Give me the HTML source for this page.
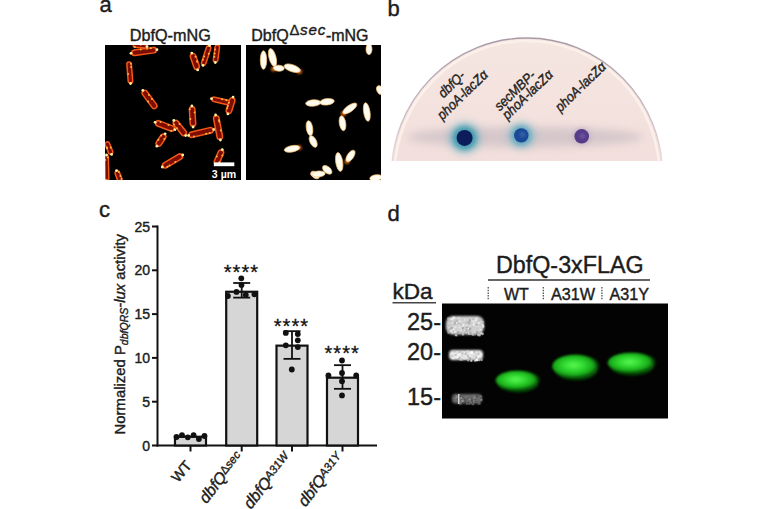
<!DOCTYPE html>
<html><head><meta charset="utf-8"><style>
html,body{margin:0;padding:0;background:#fff;width:768px;height:509px;overflow:hidden}
svg{display:block}
text{font-family:"Liberation Sans", sans-serif;fill:#1c1c1c;stroke:#1c1c1c;stroke-width:0.4px}
</style></head><body>
<svg width="768" height="509" viewBox="0 0 768 509">
<defs>
<filter id="blur1" x="-50%" y="-50%" width="200%" height="200%"><feGaussianBlur stdDeviation="0.6"/></filter>
<filter id="blur2" x="-50%" y="-50%" width="200%" height="200%"><feGaussianBlur stdDeviation="1.2"/></filter>
<filter id="blur3" x="-50%" y="-50%" width="200%" height="200%"><feGaussianBlur stdDeviation="2.5"/></filter>
<filter id="blur5" x="-50%" y="-50%" width="200%" height="200%"><feGaussianBlur stdDeviation="4"/></filter>
<radialGradient id="spot1" cx="50%" cy="50%" r="50%">
 <stop offset="0" stop-color="#0a2a6a"/><stop offset="0.55" stop-color="#0c2e70"/><stop offset="0.75" stop-color="#1a6a9a"/><stop offset="1" stop-color="#7ec8d0" stop-opacity="0"/>
</radialGradient>
</defs>

<text x="99.5" y="11.8" font-size="22">a</text>
<text x="387.5" y="15.7" font-size="22">b</text>
<text x="99" y="216.7" font-size="22">c</text>
<text x="387.5" y="220.7" font-size="22">d</text>
<text x="129.8" y="41.1" font-size="16.2">DbfQ-mNG</text>
<text x="251.3" y="41.2" font-size="16">DbfQ<tspan font-size="14.8" dy="-6.2" dx="0.8">Δ</tspan><tspan font-size="15.2" font-style="italic" dx="0.6" letter-spacing="0.9">sec</tspan><tspan dy="6.2" dx="-0.4">-mNG</tspan></text>
<rect x="105" y="45" width="136" height="135" fill="#000"/>
<rect x="246" y="45" width="135" height="135" fill="#000"/>
<clipPath id="clipL"><rect x="105" y="45" width="136" height="135"/></clipPath>
<clipPath id="clipR"><rect x="246" y="45" width="135" height="135"/></clipPath>
<filter id="blurL" x="-50%" y="-50%" width="200%" height="200%"><feGaussianBlur stdDeviation="0.75"/></filter>
<g clip-path="url(#clipL)"><g filter="url(#blurL)">
<rect x="-12.3" y="-2.8" width="24.7" height="5.5" rx="2.8" transform="translate(144.0,51.5) rotate(-7.8)" fill="#7c0a04" stroke="#f45818" stroke-width="1.5"/>
<circle cx="131.0" cy="53.3" r="1.4" fill="#fff0a0"/>
<circle cx="157.0" cy="49.7" r="1.4" fill="#fff0a0"/>
<circle cx="147.0" cy="48.8" r="1.0" fill="#ffb040"/>
<circle cx="150.8" cy="48.3" r="1.0" fill="#ffb040"/>
<circle cx="140.7" cy="49.6" r="1.0" fill="#ffb040"/>
<rect x="-6.8" y="-1.8" width="13.6" height="3.5" rx="1.8" transform="translate(140.0,46.0) rotate(4.8)" fill="#7c0a04" stroke="#f45818" stroke-width="1.5"/>
<circle cx="147.0" cy="46.6" r="1.4" fill="#fff0a0"/>
<circle cx="134.9" cy="46.9" r="1.0" fill="#ffb040"/>
<circle cx="134.9" cy="44.3" r="1.0" fill="#ffb040"/>
<circle cx="140.7" cy="44.8" r="1.0" fill="#ffb040"/>
<rect x="-10.5" y="-2.2" width="21.1" height="4.5" rx="2.2" transform="translate(129.8,72.5) rotate(85.5)" fill="#7c0a04" stroke="#f45818" stroke-width="1.5"/>
<circle cx="130.6" cy="83.5" r="1.4" fill="#fff0a0"/>
<circle cx="131.1" cy="67.1" r="1.0" fill="#ffb040"/>
<circle cx="128.1" cy="74.1" r="1.0" fill="#ffb040"/>
<circle cx="130.9" cy="63.8" r="1.0" fill="#ffb040"/>
<rect x="-10.5" y="-2.8" width="21.1" height="5.5" rx="2.8" transform="translate(149.5,99.5) rotate(53.7)" fill="#7c0a04" stroke="#f45818" stroke-width="1.5"/>
<circle cx="142.8" cy="90.4" r="1.4" fill="#fff0a0"/>
<circle cx="149.0" cy="95.0" r="1.0" fill="#ffb040"/>
<circle cx="148.1" cy="101.5" r="1.0" fill="#ffb040"/>
<circle cx="152.0" cy="99.0" r="1.0" fill="#ffb040"/>
<rect x="-8.1" y="-2.8" width="16.2" height="5.5" rx="2.8" transform="translate(194.8,61.5) rotate(70.9)" fill="#7c0a04" stroke="#f45818" stroke-width="1.5"/>
<circle cx="191.8" cy="53.1" r="1.4" fill="#fff0a0"/>
<circle cx="197.7" cy="69.9" r="1.4" fill="#fff0a0"/>
<circle cx="195.5" cy="56.7" r="1.0" fill="#ffb040"/>
<circle cx="197.1" cy="61.4" r="1.0" fill="#ffb040"/>
<circle cx="197.2" cy="61.6" r="1.0" fill="#ffb040"/>
<rect x="-9.9" y="-2.2" width="19.9" height="4.5" rx="2.2" transform="translate(206.2,55.5) rotate(107.9)" fill="#7c0a04" stroke="#f45818" stroke-width="1.5"/>
<circle cx="209.5" cy="45.6" r="1.4" fill="#fff0a0"/>
<circle cx="203.0" cy="65.4" r="1.4" fill="#fff0a0"/>
<circle cx="203.0" cy="59.7" r="1.0" fill="#ffb040"/>
<circle cx="204.1" cy="56.4" r="1.0" fill="#ffb040"/>
<circle cx="208.7" cy="53.7" r="1.0" fill="#ffb040"/>
<rect x="-8.6" y="-2.2" width="17.2" height="4.5" rx="2.2" transform="translate(216.5,53.5) rotate(97.6)" fill="#7c0a04" stroke="#f45818" stroke-width="1.5"/>
<circle cx="215.3" cy="62.5" r="1.4" fill="#fff0a0"/>
<circle cx="215.2" cy="49.4" r="1.0" fill="#ffb040"/>
<circle cx="214.7" cy="53.6" r="1.0" fill="#ffb040"/>
<circle cx="214.3" cy="56.7" r="1.0" fill="#ffb040"/>
<rect x="-9.7" y="-2.2" width="19.5" height="4.5" rx="2.2" transform="translate(221.5,101.0) rotate(13.2)" fill="#7c0a04" stroke="#f45818" stroke-width="1.5"/>
<circle cx="211.5" cy="98.7" r="1.4" fill="#fff0a0"/>
<circle cx="231.5" cy="103.3" r="1.4" fill="#fff0a0"/>
<circle cx="222.1" cy="99.3" r="1.0" fill="#ffb040"/>
<circle cx="226.3" cy="100.3" r="1.0" fill="#ffb040"/>
<circle cx="228.5" cy="104.5" r="1.0" fill="#ffb040"/>
<rect x="-8.0" y="-2.8" width="16.1" height="5.5" rx="2.8" transform="translate(230.5,105.5) rotate(107.1)" fill="#7c0a04" stroke="#f45818" stroke-width="1.5"/>
<circle cx="233.1" cy="97.1" r="1.4" fill="#fff0a0"/>
<circle cx="227.9" cy="113.9" r="1.4" fill="#fff0a0"/>
<circle cx="227.2" cy="108.3" r="1.0" fill="#ffb040"/>
<circle cx="228.9" cy="102.7" r="1.0" fill="#ffb040"/>
<circle cx="227.9" cy="106.1" r="1.0" fill="#ffb040"/>
<rect x="-9.8" y="-2.8" width="19.5" height="5.5" rx="2.8" transform="translate(192.5,116.5) rotate(86.6)" fill="#7c0a04" stroke="#f45818" stroke-width="1.5"/>
<circle cx="191.9" cy="106.0" r="1.4" fill="#fff0a0"/>
<circle cx="193.1" cy="127.0" r="1.4" fill="#fff0a0"/>
<circle cx="194.6" cy="112.5" r="1.0" fill="#ffb040"/>
<circle cx="189.8" cy="109.2" r="1.0" fill="#ffb040"/>
<circle cx="190.4" cy="119.1" r="1.0" fill="#ffb040"/>
<rect x="-9.8" y="-2.8" width="19.6" height="5.5" rx="2.8" transform="translate(165.0,126.0) rotate(20.6)" fill="#7c0a04" stroke="#f45818" stroke-width="1.5"/>
<circle cx="155.1" cy="122.3" r="1.4" fill="#fff0a0"/>
<circle cx="174.9" cy="129.7" r="1.4" fill="#fff0a0"/>
<circle cx="168.5" cy="124.9" r="1.0" fill="#ffb040"/>
<circle cx="171.2" cy="130.8" r="1.0" fill="#ffb040"/>
<circle cx="160.5" cy="121.9" r="1.0" fill="#ffb040"/>
<rect x="-8.9" y="-2.8" width="17.8" height="5.5" rx="2.8" transform="translate(179.8,128.0) rotate(51.6)" fill="#7c0a04" stroke="#f45818" stroke-width="1.5"/>
<circle cx="173.8" cy="120.4" r="1.4" fill="#fff0a0"/>
<circle cx="185.7" cy="135.6" r="1.4" fill="#fff0a0"/>
<circle cx="179.5" cy="124.0" r="1.0" fill="#ffb040"/>
<circle cx="177.0" cy="128.2" r="1.0" fill="#ffb040"/>
<circle cx="174.0" cy="124.4" r="1.0" fill="#ffb040"/>
<rect x="-12.3" y="-2.8" width="24.5" height="5.5" rx="2.8" transform="translate(201.2,132.5) rotate(-13.1)" fill="#7c0a04" stroke="#f45818" stroke-width="1.5"/>
<circle cx="188.6" cy="135.5" r="1.4" fill="#fff0a0"/>
<circle cx="213.9" cy="129.5" r="1.4" fill="#fff0a0"/>
<circle cx="194.0" cy="136.6" r="1.0" fill="#ffb040"/>
<circle cx="209.6" cy="132.9" r="1.0" fill="#ffb040"/>
<circle cx="206.2" cy="133.7" r="1.0" fill="#ffb040"/>
<rect x="-11.9" y="-2.8" width="23.9" height="5.5" rx="2.8" transform="translate(218.0,127.5) rotate(79.2)" fill="#7c0a04" stroke="#f45818" stroke-width="1.5"/>
<circle cx="215.6" cy="115.0" r="1.4" fill="#fff0a0"/>
<circle cx="220.4" cy="140.0" r="1.4" fill="#fff0a0"/>
<circle cx="219.2" cy="121.4" r="1.0" fill="#ffb040"/>
<circle cx="219.0" cy="120.3" r="1.0" fill="#ffb040"/>
<circle cx="220.9" cy="130.4" r="1.0" fill="#ffb040"/>
<rect x="-6.6" y="-2.8" width="13.3" height="5.5" rx="2.8" transform="translate(161.0,140.0) rotate(123.7)" fill="#7c0a04" stroke="#f45818" stroke-width="1.5"/>
<circle cx="165.1" cy="133.8" r="1.4" fill="#fff0a0"/>
<circle cx="156.9" cy="146.2" r="1.4" fill="#fff0a0"/>
<circle cx="164.3" cy="139.1" r="1.0" fill="#ffb040"/>
<circle cx="161.2" cy="135.5" r="1.0" fill="#ffb040"/>
<circle cx="158.4" cy="139.7" r="1.0" fill="#ffb040"/>
<rect x="-6.4" y="-2.2" width="12.8" height="4.5" rx="2.2" transform="translate(109.0,148.0) rotate(68.2)" fill="#7c0a04" stroke="#f45818" stroke-width="1.5"/>
<circle cx="111.6" cy="154.4" r="1.4" fill="#fff0a0"/>
<circle cx="110.7" cy="147.5" r="1.0" fill="#ffb040"/>
<circle cx="107.2" cy="148.2" r="1.0" fill="#ffb040"/>
<circle cx="106.9" cy="147.6" r="1.0" fill="#ffb040"/>
<rect x="-12.8" y="-1.8" width="25.6" height="3.5" rx="1.8" transform="translate(106.8,168.0) rotate(88.8)" fill="#7c0a04" stroke="#f45818" stroke-width="1.5"/>
<circle cx="106.5" cy="155.0" r="1.4" fill="#fff0a0"/>
<circle cx="107.0" cy="181.0" r="1.4" fill="#fff0a0"/>
<circle cx="107.8" cy="157.5" r="1.0" fill="#ffb040"/>
<circle cx="105.7" cy="179.7" r="1.0" fill="#ffb040"/>
<circle cx="105.3" cy="159.9" r="1.0" fill="#ffb040"/>
<rect x="-5.3" y="-2.2" width="10.6" height="4.5" rx="2.2" transform="translate(118.5,176.0) rotate(69.4)" fill="#7c0a04" stroke="#f45818" stroke-width="1.5"/>
<circle cx="116.5" cy="170.6" r="1.4" fill="#fff0a0"/>
<circle cx="120.5" cy="181.4" r="1.4" fill="#fff0a0"/>
<circle cx="120.4" cy="175.9" r="1.0" fill="#ffb040"/>
<circle cx="121.5" cy="179.0" r="1.0" fill="#ffb040"/>
<circle cx="118.9" cy="171.9" r="1.0" fill="#ffb040"/>
<rect x="-11.1" y="-2.8" width="22.2" height="5.5" rx="2.8" transform="translate(172.5,161.0) rotate(-30.5)" fill="#7c0a04" stroke="#f45818" stroke-width="1.5"/>
<circle cx="162.3" cy="167.0" r="1.4" fill="#fff0a0"/>
<circle cx="182.7" cy="155.0" r="1.4" fill="#fff0a0"/>
<circle cx="169.5" cy="165.5" r="1.0" fill="#ffb040"/>
<circle cx="175.4" cy="162.0" r="1.0" fill="#ffb040"/>
<circle cx="167.3" cy="166.8" r="1.0" fill="#ffb040"/>
<rect x="-7.5" y="-2.8" width="15.0" height="5.5" rx="2.8" transform="translate(219.0,157.2) rotate(-66.5)" fill="#7c0a04" stroke="#f45818" stroke-width="1.5"/>
<circle cx="222.3" cy="149.7" r="1.4" fill="#fff0a0"/>
<circle cx="216.8" cy="156.5" r="1.0" fill="#ffb040"/>
<circle cx="219.3" cy="162.3" r="1.0" fill="#ffb040"/>
<circle cx="222.3" cy="155.4" r="1.0" fill="#ffb040"/>
</g></g>
<g clip-path="url(#clipR)"><g filter="url(#blur1)">
<circle cx="273.5" cy="69" r="2.6" fill="#e87010" opacity="0.85" filter="url(#blur2)"/>
<circle cx="299.5" cy="71.5" r="2.6" fill="#e87010" opacity="0.85" filter="url(#blur2)"/>
<circle cx="343.5" cy="113.5" r="2.6" fill="#e87010" opacity="0.85" filter="url(#blur2)"/>
<circle cx="299" cy="147.5" r="2.6" fill="#e87010" opacity="0.85" filter="url(#blur2)"/>
<circle cx="347" cy="161.5" r="2.6" fill="#e87010" opacity="0.85" filter="url(#blur2)"/>
<ellipse rx="9.3" ry="3.2" transform="translate(263.5,60.0) rotate(90.0)" fill="#fffbee" stroke="#f8c070" stroke-width="0.7"/>
<ellipse rx="9.2" ry="3.5" transform="translate(272.5,57.5) rotate(75.1)" fill="#fffbee" stroke="#f8c070" stroke-width="0.7"/>
<ellipse rx="5.5" ry="3.0" transform="translate(278.8,68.2) rotate(3.4)" fill="#fffbee" stroke="#f8c070" stroke-width="0.7"/>
<ellipse rx="8.5" ry="3.5" transform="translate(292.2,68.2) rotate(18.4)" fill="#fffbee" stroke="#f8c070" stroke-width="0.7"/>
<ellipse rx="7.6" ry="3.2" transform="translate(313.2,103.0) rotate(-4.6)" fill="#fffbee" stroke="#f8c070" stroke-width="0.7"/>
<ellipse rx="7.3" ry="3.2" transform="translate(327.0,101.8) rotate(-7.1)" fill="#fffbee" stroke="#f8c070" stroke-width="0.7"/>
<ellipse rx="5.5" ry="3.0" transform="translate(369.0,49.2) rotate(90.0)" fill="#fffbee" stroke="#f8c070" stroke-width="0.7"/>
<ellipse rx="4.5" ry="3.0" transform="translate(379.8,90.0) rotate(67.4)" fill="#fffbee" stroke="#f8c070" stroke-width="0.7"/>
<ellipse rx="8.3" ry="3.2" transform="translate(349.8,108.5) rotate(-34.8)" fill="#fffbee" stroke="#f8c070" stroke-width="0.7"/>
<ellipse rx="9.4" ry="3.2" transform="translate(366.8,112.0) rotate(81.1)" fill="#fffbee" stroke="#f8c070" stroke-width="0.7"/>
<ellipse rx="7.6" ry="3.2" transform="translate(342.5,123.2) rotate(80.9)" fill="#fffbee" stroke="#f8c070" stroke-width="0.7"/>
<ellipse rx="7.9" ry="3.2" transform="translate(292.0,148.8) rotate(-10.9)" fill="#fffbee" stroke="#f8c070" stroke-width="0.7"/>
<ellipse rx="7.6" ry="3.2" transform="translate(309.5,128.2) rotate(80.9)" fill="#fffbee" stroke="#f8c070" stroke-width="0.7"/>
<ellipse rx="6.3" ry="3.2" transform="translate(313.2,141.5) rotate(63.4)" fill="#fffbee" stroke="#f8c070" stroke-width="0.7"/>
<ellipse rx="4.8" ry="3.0" transform="translate(315.0,175.0) rotate(33.7)" fill="#fffbee" stroke="#f8c070" stroke-width="0.7"/>
<ellipse rx="9.5" ry="3.5" transform="translate(339.2,162.0) rotate(81.1)" fill="#fffbee" stroke="#f8c070" stroke-width="0.7"/>
<ellipse rx="6.7" ry="3.2" transform="translate(350.5,156.0) rotate(-56.3)" fill="#fffbee" stroke="#f8c070" stroke-width="0.7"/>
<ellipse rx="5.6" ry="3.2" transform="translate(327.2,169.8) rotate(40.2)" fill="#fffbee" stroke="#f8c070" stroke-width="0.7"/>
<ellipse rx="6.7" ry="3.0" transform="translate(318.5,174.0) rotate(-5.2)" fill="#fffbee" stroke="#f8c070" stroke-width="0.7"/>
<ellipse rx="6.3" ry="3.0" transform="translate(376.0,177.8) rotate(-8.5)" fill="#fffbee" stroke="#f8c070" stroke-width="0.7"/>
</g></g>
<rect x="213.8" y="162.4" width="20.5" height="3.8" fill="#fff"/>
<text x="211.8" y="178" font-size="10.6" font-weight="bold" style="fill:#fff;stroke:none">3 µm</text>
<clipPath id="dishclip"><rect x="380" y="0" width="300" height="161"/></clipPath>
<g clip-path="url(#dishclip)">
<defs><linearGradient id="dishg" x1="0" y1="0" x2="0" y2="1"><stop offset="0" stop-color="#f5e6e0"/><stop offset="0.5" stop-color="#f2dedc"/><stop offset="1" stop-color="#f0dbda"/></linearGradient></defs>
<defs><linearGradient id="rimg" x1="0" y1="38" x2="0" y2="161" gradientUnits="userSpaceOnUse"><stop offset="0" stop-color="#a898a6"/><stop offset="0.5" stop-color="#c0b2bc"/><stop offset="1" stop-color="#eadcdc"/></linearGradient></defs>
<ellipse cx="527" cy="175" rx="135.5" ry="137" fill="url(#dishg)" stroke="url(#rimg)" stroke-width="1.4"/>
<ellipse cx="527" cy="175" rx="132.5" ry="134" fill="none" stroke="#fbf1ea" stroke-width="2.5"/>
</g>
<g clip-path="url(#dishclip)"><ellipse cx="525" cy="137" rx="118" ry="10" fill="#b0a8b4" opacity="0.45" filter="url(#blur5)"/></g>
<circle cx="464.6" cy="137.9" r="15" fill="#60b0c0" opacity="0.7" filter="url(#blur5)"/>
<circle cx="464.6" cy="137.9" r="11.5" fill="#2a90a8" opacity="0.75" filter="url(#blur3)"/>
<circle cx="464.6" cy="137.9" r="8" fill="#0b1e5a" filter="url(#blur1)"/>
<circle cx="521.3" cy="135.4" r="13" fill="#70b8c8" opacity="0.6" filter="url(#blur5)"/>
<circle cx="521.3" cy="135.4" r="10" fill="#3a98b8" opacity="0.6" filter="url(#blur3)"/>
<circle cx="521.3" cy="135.4" r="7.2" fill="#1a4896" filter="url(#blur1)"/>
<circle cx="522.5" cy="134.5" r="3" fill="#3a68b0" opacity="0.7" filter="url(#blur2)"/>
<circle cx="581.7" cy="136.3" r="8.5" fill="#9a80b0" opacity="0.35" filter="url(#blur3)"/>
<circle cx="581.7" cy="136.3" r="7.3" fill="#553a88" filter="url(#blur1)"/>
<circle cx="582.5" cy="136" r="3" fill="#7a60a8" opacity="0.6" filter="url(#blur2)"/>
<g transform="translate(443.5,98.5) rotate(-44) scale(0.91,1)"><text font-size="13.8" font-style="italic" style="fill:#262626">dbfQ-</text></g>
<g transform="translate(442.5,120.5) rotate(-44) scale(0.91,1)"><text font-size="13.8" font-style="italic" style="fill:#262626">phoA-lacZα</text></g>
<g transform="translate(499.8,111.6) rotate(-44) scale(0.91,1)"><text font-size="13.8" font-style="italic" style="fill:#262626">secMBP-</text></g>
<g transform="translate(507.5,120.3) rotate(-44) scale(0.91,1)"><text font-size="13.8" font-style="italic" style="fill:#262626">phoA-lacZα</text></g>
<g transform="translate(560.5,112.5) rotate(-44) scale(0.91,1)"><text font-size="13.8" font-style="italic" style="fill:#262626">phoA-lacZα</text></g>
<g stroke="#111" stroke-width="2" fill="none">
<line x1="157.5" y1="225.5" x2="157.5" y2="446.5"/>
<line x1="156.5" y1="445.5" x2="377" y2="445.5"/>
<line x1="152" y1="445.5" x2="157.5" y2="445.5"/>
<line x1="152" y1="401.7" x2="157.5" y2="401.7"/>
<line x1="152" y1="357.9" x2="157.5" y2="357.9"/>
<line x1="152" y1="314.1" x2="157.5" y2="314.1"/>
<line x1="152" y1="270.3" x2="157.5" y2="270.3"/>
<line x1="152" y1="226.5" x2="157.5" y2="226.5"/>
</g>
<text x="150" y="450.5" font-size="14" text-anchor="end">0</text>
<text x="150" y="406.7" font-size="14" text-anchor="end">5</text>
<text x="150" y="362.9" font-size="14" text-anchor="end">10</text>
<text x="150" y="319.1" font-size="14" text-anchor="end">15</text>
<text x="150" y="275.3" font-size="14" text-anchor="end">20</text>
<text x="150" y="231.5" font-size="14" text-anchor="end">25</text>
<rect x="175.0" y="436.74" width="31" height="8.759999999999991" fill="#d6d6d6" stroke="#111" stroke-width="2.2"/>
<line x1="190.5" y1="445.5" x2="190.5" y2="451.5" stroke="#111" stroke-width="2"/>
<rect x="226.2" y="291.762" width="31" height="153.738" fill="#d6d6d6" stroke="#111" stroke-width="2.2"/>
<line x1="241.7" y1="445.5" x2="241.7" y2="451.5" stroke="#111" stroke-width="2"/>
<rect x="276.5" y="345.63599999999997" width="31" height="99.86400000000003" fill="#d6d6d6" stroke="#111" stroke-width="2.2"/>
<line x1="292" y1="445.5" x2="292" y2="451.5" stroke="#111" stroke-width="2"/>
<rect x="327.0" y="377.69759999999997" width="31" height="67.80240000000003" fill="#d6d6d6" stroke="#111" stroke-width="2.2"/>
<line x1="342.5" y1="445.5" x2="342.5" y2="451.5" stroke="#111" stroke-width="2"/>
<g stroke="#111" stroke-width="1.8"><line x1="241.7" y1="283.002" x2="241.7" y2="297.63120000000004"/><line x1="233.2" y1="283.002" x2="250.2" y2="283.002"/><line x1="233.2" y1="297.63120000000004" x2="250.2" y2="297.63120000000004"/></g>
<g stroke="#111" stroke-width="1.8"><line x1="292" y1="331.182" x2="292" y2="358.8636"/><line x1="283.5" y1="331.182" x2="300.5" y2="331.182"/><line x1="283.5" y1="358.8636" x2="300.5" y2="358.8636"/></g>
<g stroke="#111" stroke-width="1.8"><line x1="342.5" y1="365.1708" x2="342.5" y2="388.82280000000003"/><line x1="334.0" y1="365.1708" x2="351.0" y2="365.1708"/><line x1="334.0" y1="388.82280000000003" x2="351.0" y2="388.82280000000003"/></g>
<circle cx="176.5" cy="437" r="2.9" fill="#111"/>
<circle cx="182" cy="435.2" r="2.9" fill="#111"/>
<circle cx="187.8" cy="437.3" r="2.9" fill="#111"/>
<circle cx="193.6" cy="435.2" r="2.9" fill="#111"/>
<circle cx="198.9" cy="439" r="2.9" fill="#111"/>
<circle cx="204.5" cy="436" r="2.9" fill="#111"/>
<circle cx="241.3" cy="278.3" r="2.9" fill="#111"/>
<circle cx="241.5" cy="285" r="2.9" fill="#111"/>
<circle cx="236.5" cy="291.9" r="2.9" fill="#111"/>
<circle cx="227.9" cy="296" r="2.9" fill="#111"/>
<circle cx="245.8" cy="295" r="2.9" fill="#111"/>
<circle cx="254.4" cy="294.3" r="2.9" fill="#111"/>
<circle cx="285.8" cy="332.9" r="2.9" fill="#111"/>
<circle cx="297.8" cy="334.1" r="2.9" fill="#111"/>
<circle cx="297.8" cy="340.3" r="2.9" fill="#111"/>
<circle cx="285.8" cy="345.3" r="2.9" fill="#111"/>
<circle cx="297.8" cy="347.1" r="2.9" fill="#111"/>
<circle cx="291.8" cy="369.5" r="2.9" fill="#111"/>
<circle cx="342" cy="360.5" r="2.9" fill="#111"/>
<circle cx="328.4" cy="375.4" r="2.9" fill="#111"/>
<circle cx="342" cy="373" r="2.9" fill="#111"/>
<circle cx="356.2" cy="375.4" r="2.9" fill="#111"/>
<circle cx="342" cy="381.2" r="2.9" fill="#111"/>
<circle cx="342" cy="395.4" r="2.9" fill="#111"/>
<text x="241.4" y="278.9" font-size="20" letter-spacing="1.1" text-anchor="middle" style="fill:#111;stroke:#111;stroke-width:0.3px">****</text>
<text x="291.5" y="333.1" font-size="20" letter-spacing="1.1" text-anchor="middle" style="fill:#111;stroke:#111;stroke-width:0.3px">****</text>
<text x="342.2" y="359.8" font-size="20" letter-spacing="1.1" text-anchor="middle" style="fill:#111;stroke:#111;stroke-width:0.3px">****</text>
<g transform="translate(192.5,466) rotate(-50)"><text font-size="14.5" text-anchor="end">WT</text></g>
<g transform="translate(206.4,504.3) rotate(-52)"><text font-size="16"><tspan font-style="italic">dbfQ</tspan><tspan font-size="11.5" dy="-3.2">Δ</tspan><tspan font-size="11.5" font-style="italic">sec</tspan></text></g>
<g transform="translate(251,509.8) rotate(-52)"><text font-size="16"><tspan font-style="italic">dbfQ</tspan><tspan font-size="11.5" dy="-3.2" font-style="italic">A31W</tspan></text></g>
<g transform="translate(305.4,507.4) rotate(-52)"><text font-size="16"><tspan font-style="italic">dbfQ</tspan><tspan font-size="11.5" dy="-3.2" font-style="italic">A31Y</tspan></text></g>
<g transform="translate(124.5,434.5) rotate(-90)"><text font-size="14.9">Normalized P<tspan font-size="10.5" font-style="italic" dy="3.5">dbfQRS</tspan><tspan font-style="italic" dy="-3.5">-lux</tspan> activity</text></g>
<text x="496" y="272.8" font-size="23.3">DbfQ-3xFLAG</text>
<line x1="488" y1="280" x2="650" y2="280" stroke="#666" stroke-width="1.8"/>
<text x="504" y="299.8" font-size="16">WT</text>
<text x="551" y="299.8" font-size="16.2">A31W</text>
<text x="609.5" y="299.8" font-size="16.2">A31Y</text>
<line x1="488.2" y1="287" x2="488.2" y2="300.5" stroke="#444" stroke-width="1.2" stroke-dasharray="1.5,1.2"/>
<line x1="543.3" y1="287" x2="543.3" y2="300.5" stroke="#444" stroke-width="1.2" stroke-dasharray="1.5,1.2"/>
<line x1="601.9" y1="287" x2="601.9" y2="300.5" stroke="#444" stroke-width="1.2" stroke-dasharray="1.5,1.2"/>
<text x="392.5" y="299" font-size="22.6">kDa</text>
<line x1="392.5" y1="302.7" x2="436" y2="302.7" stroke="#444" stroke-width="1.6"/>
<rect x="442" y="303.5" width="226" height="115" fill="#030303"/>
<text x="441" y="330.2" font-size="23.5" text-anchor="end">25-</text>
<text x="441" y="360.3" font-size="23.5" text-anchor="end">20-</text>
<text x="441" y="404.5" font-size="23.5" text-anchor="end">15-</text>
<clipPath id="gelclip"><rect x="442" y="303.5" width="226" height="115"/></clipPath>
<g clip-path="url(#gelclip)">
<g filter="url(#blur2)">
<rect x="446" y="316" width="38" height="18.5" rx="7" fill="#d0d0d0"/>
<rect x="449" y="350" width="34" height="10" rx="4" fill="#e8e8e8"/>
<rect x="452" y="394" width="30" height="9.5" rx="4" fill="#6a6a6a"/>
</g>
<g filter="url(#blur1)">
<rect x="455.6" y="326.3" width="2" height="2" fill="rgb(190,190,190)" opacity="0.8"/>
<rect x="468.7" y="327.8" width="2" height="2" fill="rgb(161,161,161)" opacity="0.8"/>
<rect x="447.5" y="331.6" width="2" height="2" fill="rgb(179,179,179)" opacity="0.8"/>
<rect x="455.4" y="334.4" width="2" height="2" fill="rgb(199,199,199)" opacity="0.8"/>
<rect x="477.1" y="325.1" width="2" height="2" fill="rgb(215,215,215)" opacity="0.8"/>
<rect x="452.4" y="327.9" width="2" height="2" fill="rgb(237,237,237)" opacity="0.8"/>
<rect x="465.8" y="329.8" width="2" height="2" fill="rgb(218,218,218)" opacity="0.8"/>
<rect x="449.3" y="330.1" width="2" height="2" fill="rgb(211,211,211)" opacity="0.8"/>
<rect x="457.8" y="317.1" width="2" height="2" fill="rgb(237,237,237)" opacity="0.8"/>
<rect x="464.0" y="329.4" width="2" height="2" fill="rgb(238,238,238)" opacity="0.8"/>
<rect x="472.7" y="333.1" width="2" height="2" fill="rgb(192,192,192)" opacity="0.8"/>
<rect x="475.8" y="324.5" width="2" height="2" fill="rgb(243,243,243)" opacity="0.8"/>
<rect x="478.6" y="318.3" width="2" height="2" fill="rgb(167,167,167)" opacity="0.8"/>
<rect x="454.8" y="333.9" width="2" height="2" fill="rgb(196,196,196)" opacity="0.8"/>
<rect x="469.6" y="321.9" width="2" height="2" fill="rgb(203,203,203)" opacity="0.8"/>
<rect x="460.9" y="322.8" width="2" height="2" fill="rgb(210,210,210)" opacity="0.8"/>
<rect x="468.0" y="332.8" width="2" height="2" fill="rgb(219,219,219)" opacity="0.8"/>
<rect x="480.4" y="331.9" width="2" height="2" fill="rgb(249,249,249)" opacity="0.8"/>
<rect x="471.2" y="319.4" width="2" height="2" fill="rgb(236,236,236)" opacity="0.8"/>
<rect x="481.7" y="332.8" width="2" height="2" fill="rgb(209,209,209)" opacity="0.8"/>
<rect x="472.7" y="320.3" width="2" height="2" fill="rgb(234,234,234)" opacity="0.8"/>
<rect x="467.6" y="321.6" width="2" height="2" fill="rgb(161,161,161)" opacity="0.8"/>
<rect x="477.7" y="334.3" width="2" height="2" fill="rgb(163,163,163)" opacity="0.8"/>
<rect x="475.8" y="323.9" width="2" height="2" fill="rgb(169,169,169)" opacity="0.8"/>
<rect x="457.6" y="330.3" width="2" height="2" fill="rgb(237,237,237)" opacity="0.8"/>
<rect x="448.6" y="327.6" width="2" height="2" fill="rgb(159,159,159)" opacity="0.8"/>
<rect x="472.9" y="322.5" width="2" height="2" fill="rgb(238,238,238)" opacity="0.8"/>
<rect x="482.3" y="325.6" width="2" height="2" fill="rgb(249,249,249)" opacity="0.8"/>
<rect x="458.1" y="317.9" width="2" height="2" fill="rgb(211,211,211)" opacity="0.8"/>
<rect x="448.1" y="320.1" width="2" height="2" fill="rgb(193,193,193)" opacity="0.8"/>
<rect x="469.0" y="319.3" width="2" height="2" fill="rgb(159,159,159)" opacity="0.8"/>
<rect x="478.2" y="322.1" width="2" height="2" fill="rgb(246,246,246)" opacity="0.8"/>
<rect x="479.3" y="323.3" width="2" height="2" fill="rgb(198,198,198)" opacity="0.8"/>
<rect x="465.7" y="328.1" width="2" height="2" fill="rgb(211,211,211)" opacity="0.8"/>
<rect x="467.1" y="327.7" width="2" height="2" fill="rgb(244,244,244)" opacity="0.8"/>
<rect x="465.3" y="324.3" width="2" height="2" fill="rgb(223,223,223)" opacity="0.8"/>
<rect x="455.6" y="321.9" width="2" height="2" fill="rgb(247,247,247)" opacity="0.8"/>
<rect x="465.8" y="326.4" width="2" height="2" fill="rgb(156,156,156)" opacity="0.8"/>
<rect x="461.9" y="326.9" width="2" height="2" fill="rgb(156,156,156)" opacity="0.8"/>
<rect x="469.2" y="327.9" width="2" height="2" fill="rgb(160,160,160)" opacity="0.8"/>
<rect x="469.6" y="324.9" width="2" height="2" fill="rgb(219,219,219)" opacity="0.8"/>
<rect x="459.7" y="329.2" width="2" height="2" fill="rgb(225,225,225)" opacity="0.8"/>
<rect x="447.8" y="317.6" width="2" height="2" fill="rgb(219,219,219)" opacity="0.8"/>
<rect x="481.7" y="321.0" width="2" height="2" fill="rgb(198,198,198)" opacity="0.8"/>
<rect x="468.3" y="322.3" width="2" height="2" fill="rgb(189,189,189)" opacity="0.8"/>
<rect x="458.3" y="323.1" width="2" height="2" fill="rgb(211,211,211)" opacity="0.8"/>
<rect x="457.8" y="323.3" width="2" height="2" fill="rgb(228,228,228)" opacity="0.8"/>
<rect x="448.0" y="326.7" width="2" height="2" fill="rgb(224,224,224)" opacity="0.8"/>
<rect x="458.2" y="320.5" width="2" height="2" fill="rgb(231,231,231)" opacity="0.8"/>
<rect x="455.6" y="319.9" width="2" height="2" fill="rgb(196,196,196)" opacity="0.8"/>
<rect x="472.1" y="318.3" width="2" height="2" fill="rgb(185,185,185)" opacity="0.8"/>
<rect x="459.0" y="331.5" width="2" height="2" fill="rgb(196,196,196)" opacity="0.8"/>
<rect x="477.8" y="319.5" width="2" height="2" fill="rgb(186,186,186)" opacity="0.8"/>
<rect x="470.4" y="332.4" width="2" height="2" fill="rgb(197,197,197)" opacity="0.8"/>
<rect x="455.1" y="318.7" width="2" height="2" fill="rgb(205,205,205)" opacity="0.8"/>
<rect x="453.9" y="331.0" width="2" height="2" fill="rgb(234,234,234)" opacity="0.8"/>
<rect x="453.6" y="321.5" width="2" height="2" fill="rgb(231,231,231)" opacity="0.8"/>
<rect x="470.1" y="331.0" width="2" height="2" fill="rgb(187,187,187)" opacity="0.8"/>
<rect x="451.7" y="321.8" width="2" height="2" fill="rgb(230,230,230)" opacity="0.8"/>
<rect x="456.8" y="322.7" width="2" height="2" fill="rgb(194,194,194)" opacity="0.8"/>
<rect x="462.1" y="323.9" width="2" height="2" fill="rgb(242,242,242)" opacity="0.8"/>
<rect x="452.6" y="316.6" width="2" height="2" fill="rgb(244,244,244)" opacity="0.8"/>
<rect x="478.7" y="334.3" width="2" height="2" fill="rgb(196,196,196)" opacity="0.8"/>
<rect x="481.2" y="333.2" width="2" height="2" fill="rgb(176,176,176)" opacity="0.8"/>
<rect x="473.8" y="331.6" width="2" height="2" fill="rgb(217,217,217)" opacity="0.8"/>
<rect x="465.7" y="321.7" width="2" height="2" fill="rgb(187,187,187)" opacity="0.8"/>
<rect x="455.2" y="317.7" width="2" height="2" fill="rgb(210,210,210)" opacity="0.8"/>
<rect x="457.3" y="331.1" width="2" height="2" fill="rgb(159,159,159)" opacity="0.8"/>
<rect x="479.5" y="329.0" width="2" height="2" fill="rgb(242,242,242)" opacity="0.8"/>
<rect x="479.3" y="332.7" width="2" height="2" fill="rgb(209,209,209)" opacity="0.8"/>
<rect x="447.5" y="329.9" width="2" height="2" fill="rgb(171,171,171)" opacity="0.8"/>
<rect x="457.8" y="328.4" width="2" height="2" fill="rgb(204,204,204)" opacity="0.8"/>
<rect x="461.9" y="333.4" width="2" height="2" fill="rgb(213,213,213)" opacity="0.8"/>
<rect x="459.3" y="321.0" width="2" height="2" fill="rgb(236,236,236)" opacity="0.8"/>
<rect x="464.2" y="330.6" width="2" height="2" fill="rgb(188,188,188)" opacity="0.8"/>
<rect x="454.1" y="326.1" width="2" height="2" fill="rgb(232,232,232)" opacity="0.8"/>
<rect x="453.2" y="330.8" width="2" height="2" fill="rgb(242,242,242)" opacity="0.8"/>
<rect x="476.0" y="331.3" width="2" height="2" fill="rgb(155,155,155)" opacity="0.8"/>
<rect x="469.6" y="332.0" width="2" height="2" fill="rgb(159,159,159)" opacity="0.8"/>
<rect x="456.8" y="321.3" width="2" height="2" fill="rgb(205,205,205)" opacity="0.8"/>
<rect x="462.2" y="325.0" width="2" height="2" fill="rgb(228,228,228)" opacity="0.8"/>
<rect x="447.1" y="317.5" width="2" height="2" fill="rgb(167,167,167)" opacity="0.8"/>
<rect x="451.5" y="317.7" width="2" height="2" fill="rgb(247,247,247)" opacity="0.8"/>
<rect x="477.8" y="318.1" width="2" height="2" fill="rgb(202,202,202)" opacity="0.8"/>
<rect x="458.4" y="322.2" width="2" height="2" fill="rgb(188,188,188)" opacity="0.8"/>
<rect x="470.3" y="327.1" width="2" height="2" fill="rgb(189,189,189)" opacity="0.8"/>
<rect x="453.9" y="322.4" width="2" height="2" fill="rgb(166,166,166)" opacity="0.8"/>
<rect x="467.0" y="329.4" width="2" height="2" fill="rgb(191,191,191)" opacity="0.8"/>
<rect x="449.9" y="319.7" width="2" height="2" fill="rgb(190,190,190)" opacity="0.8"/>
<rect x="468.8" y="330.6" width="2" height="2" fill="rgb(191,191,191)" opacity="0.8"/>
<rect x="475.8" y="327.7" width="2" height="2" fill="rgb(196,196,196)" opacity="0.8"/>
<rect x="460.4" y="325.4" width="2" height="2" fill="rgb(221,221,221)" opacity="0.8"/>
<rect x="462.1" y="329.0" width="2" height="2" fill="rgb(198,198,198)" opacity="0.8"/>
<rect x="455.8" y="326.1" width="2" height="2" fill="rgb(221,221,221)" opacity="0.8"/>
<rect x="449.6" y="324.1" width="2" height="2" fill="rgb(195,195,195)" opacity="0.8"/>
<rect x="478.7" y="333.4" width="2" height="2" fill="rgb(190,190,190)" opacity="0.8"/>
<rect x="479.3" y="330.7" width="2" height="2" fill="rgb(179,179,179)" opacity="0.8"/>
<rect x="463.7" y="318.7" width="2" height="2" fill="rgb(232,232,232)" opacity="0.8"/>
<rect x="470.8" y="332.5" width="2" height="2" fill="rgb(230,230,230)" opacity="0.8"/>
<rect x="471.0" y="329.7" width="2" height="2" fill="rgb(208,208,208)" opacity="0.8"/>
<rect x="450.7" y="327.1" width="2" height="2" fill="rgb(155,155,155)" opacity="0.8"/>
<rect x="452.2" y="330.4" width="2" height="2" fill="rgb(159,159,159)" opacity="0.8"/>
<rect x="450.3" y="318.3" width="2" height="2" fill="rgb(238,238,238)" opacity="0.8"/>
<rect x="453.4" y="316.9" width="2" height="2" fill="rgb(234,234,234)" opacity="0.8"/>
<rect x="451.4" y="331.7" width="2" height="2" fill="rgb(218,218,218)" opacity="0.8"/>
<rect x="477.1" y="333.6" width="2" height="2" fill="rgb(210,210,210)" opacity="0.8"/>
<rect x="475.8" y="317.2" width="2" height="2" fill="rgb(227,227,227)" opacity="0.8"/>
<rect x="465.4" y="329.4" width="2" height="2" fill="rgb(165,165,165)" opacity="0.8"/>
<rect x="474.0" y="333.3" width="2" height="2" fill="rgb(160,160,160)" opacity="0.8"/>
<rect x="458.7" y="326.7" width="2" height="2" fill="rgb(233,233,233)" opacity="0.8"/>
<rect x="455.7" y="319.7" width="2" height="2" fill="rgb(178,178,178)" opacity="0.8"/>
<rect x="469.2" y="330.1" width="2" height="2" fill="rgb(192,192,192)" opacity="0.8"/>
<rect x="460.2" y="323.6" width="2" height="2" fill="rgb(188,188,188)" opacity="0.8"/>
<rect x="462.1" y="318.0" width="2" height="2" fill="rgb(202,202,202)" opacity="0.8"/>
<rect x="482.0" y="323.9" width="2" height="2" fill="rgb(226,226,226)" opacity="0.8"/>
<rect x="452.8" y="328.9" width="2" height="2" fill="rgb(226,226,226)" opacity="0.8"/>
<rect x="471.3" y="325.8" width="2" height="2" fill="rgb(200,200,200)" opacity="0.8"/>
<rect x="470.1" y="332.7" width="2" height="2" fill="rgb(169,169,169)" opacity="0.8"/>
<rect x="450.5" y="330.0" width="2" height="2" fill="rgb(242,242,242)" opacity="0.8"/>
<rect x="465.6" y="324.5" width="2" height="2" fill="rgb(223,223,223)" opacity="0.8"/>
<rect x="453.7" y="321.3" width="2" height="2" fill="rgb(173,173,173)" opacity="0.8"/>
<rect x="468.1" y="322.2" width="2" height="2" fill="rgb(177,177,177)" opacity="0.8"/>
<rect x="471.9" y="333.7" width="2" height="2" fill="rgb(183,183,183)" opacity="0.8"/>
<rect x="472.4" y="323.9" width="2" height="2" fill="rgb(236,236,236)" opacity="0.8"/>
<rect x="468.0" y="321.3" width="2" height="2" fill="rgb(175,175,175)" opacity="0.8"/>
<rect x="447.8" y="325.1" width="2" height="2" fill="rgb(191,191,191)" opacity="0.8"/>
<rect x="453.2" y="323.0" width="2" height="2" fill="rgb(185,185,185)" opacity="0.8"/>
<rect x="474.9" y="319.1" width="2" height="2" fill="rgb(249,249,249)" opacity="0.8"/>
<rect x="464.3" y="327.3" width="2" height="2" fill="rgb(199,199,199)" opacity="0.8"/>
<rect x="476.7" y="358.2" width="2" height="2" fill="rgb(222,222,222)" opacity="0.8"/>
<rect x="465.4" y="357.2" width="2" height="2" fill="rgb(251,251,251)" opacity="0.8"/>
<rect x="462.8" y="357.3" width="2" height="2" fill="rgb(255,255,255)" opacity="0.8"/>
<rect x="465.0" y="352.3" width="2" height="2" fill="rgb(192,192,192)" opacity="0.8"/>
<rect x="473.0" y="356.8" width="2" height="2" fill="rgb(255,255,255)" opacity="0.8"/>
<rect x="477.3" y="352.4" width="2" height="2" fill="rgb(188,188,188)" opacity="0.8"/>
<rect x="458.3" y="351.9" width="2" height="2" fill="rgb(236,236,236)" opacity="0.8"/>
<rect x="477.5" y="359.0" width="2" height="2" fill="rgb(194,194,194)" opacity="0.8"/>
<rect x="477.7" y="353.1" width="2" height="2" fill="rgb(210,210,210)" opacity="0.8"/>
<rect x="473.3" y="350.9" width="2" height="2" fill="rgb(178,178,178)" opacity="0.8"/>
<rect x="476.7" y="352.9" width="2" height="2" fill="rgb(203,203,203)" opacity="0.8"/>
<rect x="468.6" y="356.8" width="2" height="2" fill="rgb(170,170,170)" opacity="0.8"/>
<rect x="460.7" y="354.4" width="2" height="2" fill="rgb(216,216,216)" opacity="0.8"/>
<rect x="456.7" y="355.9" width="2" height="2" fill="rgb(255,255,255)" opacity="0.8"/>
<rect x="462.5" y="355.4" width="2" height="2" fill="rgb(181,181,181)" opacity="0.8"/>
<rect x="458.8" y="356.7" width="2" height="2" fill="rgb(180,180,180)" opacity="0.8"/>
<rect x="478.4" y="359.1" width="2" height="2" fill="rgb(179,179,179)" opacity="0.8"/>
<rect x="480.1" y="353.7" width="2" height="2" fill="rgb(243,243,243)" opacity="0.8"/>
<rect x="474.2" y="353.0" width="2" height="2" fill="rgb(234,234,234)" opacity="0.8"/>
<rect x="470.9" y="358.1" width="2" height="2" fill="rgb(195,195,195)" opacity="0.8"/>
<rect x="474.1" y="359.6" width="2" height="2" fill="rgb(233,233,233)" opacity="0.8"/>
<rect x="467.2" y="351.1" width="2" height="2" fill="rgb(216,216,216)" opacity="0.8"/>
<rect x="461.3" y="357.2" width="2" height="2" fill="rgb(234,234,234)" opacity="0.8"/>
<rect x="468.1" y="351.8" width="2" height="2" fill="rgb(231,231,231)" opacity="0.8"/>
<rect x="470.2" y="351.8" width="2" height="2" fill="rgb(254,254,254)" opacity="0.8"/>
<rect x="471.0" y="351.2" width="2" height="2" fill="rgb(255,255,255)" opacity="0.8"/>
<rect x="454.5" y="353.3" width="2" height="2" fill="rgb(238,238,238)" opacity="0.8"/>
<rect x="469.1" y="355.5" width="2" height="2" fill="rgb(231,231,231)" opacity="0.8"/>
<rect x="464.6" y="353.1" width="2" height="2" fill="rgb(186,186,186)" opacity="0.8"/>
<rect x="452.2" y="357.2" width="2" height="2" fill="rgb(241,241,241)" opacity="0.8"/>
<rect x="467.4" y="357.4" width="2" height="2" fill="rgb(204,204,204)" opacity="0.8"/>
<rect x="458.5" y="353.8" width="2" height="2" fill="rgb(252,252,252)" opacity="0.8"/>
<rect x="451.3" y="355.0" width="2" height="2" fill="rgb(193,193,193)" opacity="0.8"/>
<rect x="474.6" y="353.5" width="2" height="2" fill="rgb(201,201,201)" opacity="0.8"/>
<rect x="462.9" y="355.4" width="2" height="2" fill="rgb(243,243,243)" opacity="0.8"/>
<rect x="461.3" y="358.5" width="2" height="2" fill="rgb(180,180,180)" opacity="0.8"/>
<rect x="458.7" y="351.0" width="2" height="2" fill="rgb(180,180,180)" opacity="0.8"/>
<rect x="474.9" y="357.3" width="2" height="2" fill="rgb(187,187,187)" opacity="0.8"/>
<rect x="456.1" y="354.2" width="2" height="2" fill="rgb(240,240,240)" opacity="0.8"/>
<rect x="476.1" y="357.5" width="2" height="2" fill="rgb(226,226,226)" opacity="0.8"/>
<rect x="454.7" y="354.0" width="2" height="2" fill="rgb(188,188,188)" opacity="0.8"/>
<rect x="466.9" y="355.7" width="2" height="2" fill="rgb(189,189,189)" opacity="0.8"/>
<rect x="458.0" y="357.8" width="2" height="2" fill="rgb(172,172,172)" opacity="0.8"/>
<rect x="475.7" y="358.9" width="2" height="2" fill="rgb(255,255,255)" opacity="0.8"/>
<rect x="462.3" y="355.5" width="2" height="2" fill="rgb(225,225,225)" opacity="0.8"/>
<rect x="470.3" y="359.8" width="2" height="2" fill="rgb(235,235,235)" opacity="0.8"/>
<rect x="459.6" y="358.6" width="2" height="2" fill="rgb(215,215,215)" opacity="0.8"/>
<rect x="469.2" y="357.3" width="2" height="2" fill="rgb(170,170,170)" opacity="0.8"/>
<rect x="474.7" y="356.6" width="2" height="2" fill="rgb(216,216,216)" opacity="0.8"/>
<rect x="466.8" y="354.6" width="2" height="2" fill="rgb(188,188,188)" opacity="0.8"/>
<rect x="466.9" y="350.4" width="2" height="2" fill="rgb(217,217,217)" opacity="0.8"/>
<rect x="470.7" y="354.4" width="2" height="2" fill="rgb(223,223,223)" opacity="0.8"/>
<rect x="480.7" y="358.9" width="2" height="2" fill="rgb(182,182,182)" opacity="0.8"/>
<rect x="475.4" y="356.2" width="2" height="2" fill="rgb(174,174,174)" opacity="0.8"/>
<rect x="461.5" y="352.3" width="2" height="2" fill="rgb(177,177,177)" opacity="0.8"/>
<rect x="467.2" y="359.3" width="2" height="2" fill="rgb(200,200,200)" opacity="0.8"/>
<rect x="477.9" y="356.9" width="2" height="2" fill="rgb(182,182,182)" opacity="0.8"/>
<rect x="477.5" y="356.0" width="2" height="2" fill="rgb(255,255,255)" opacity="0.8"/>
<rect x="472.9" y="357.4" width="2" height="2" fill="rgb(202,202,202)" opacity="0.8"/>
<rect x="475.8" y="359.3" width="2" height="2" fill="rgb(251,251,251)" opacity="0.8"/>
<rect x="464.0" y="357.6" width="2" height="2" fill="rgb(216,216,216)" opacity="0.8"/>
<rect x="453.5" y="350.4" width="2" height="2" fill="rgb(177,177,177)" opacity="0.8"/>
<rect x="456.4" y="351.6" width="2" height="2" fill="rgb(217,217,217)" opacity="0.8"/>
<rect x="472.4" y="355.4" width="2" height="2" fill="rgb(210,210,210)" opacity="0.8"/>
<rect x="471.2" y="397.2" width="2" height="2" fill="rgb(114,114,114)" opacity="0.8"/>
<rect x="474.2" y="398.1" width="2" height="2" fill="rgb(87,87,87)" opacity="0.8"/>
<rect x="478.2" y="401.0" width="2" height="2" fill="rgb(104,104,104)" opacity="0.8"/>
<rect x="463.4" y="399.3" width="2" height="2" fill="rgb(126,126,126)" opacity="0.8"/>
<rect x="459.3" y="394.5" width="2" height="2" fill="rgb(89,89,89)" opacity="0.8"/>
<rect x="474.9" y="395.8" width="2" height="2" fill="rgb(113,113,113)" opacity="0.8"/>
<rect x="458.5" y="396.4" width="2" height="2" fill="rgb(86,86,86)" opacity="0.8"/>
<rect x="464.3" y="396.0" width="2" height="2" fill="rgb(72,72,72)" opacity="0.8"/>
<rect x="456.1" y="396.0" width="2" height="2" fill="rgb(116,116,116)" opacity="0.8"/>
<rect x="454.7" y="394.7" width="2" height="2" fill="rgb(112,112,112)" opacity="0.8"/>
<rect x="464.4" y="400.8" width="2" height="2" fill="rgb(74,74,74)" opacity="0.8"/>
<rect x="464.3" y="398.1" width="2" height="2" fill="rgb(72,72,72)" opacity="0.8"/>
<rect x="480.0" y="396.5" width="2" height="2" fill="rgb(78,78,78)" opacity="0.8"/>
<rect x="466.3" y="396.0" width="2" height="2" fill="rgb(129,129,129)" opacity="0.8"/>
<rect x="462.7" y="395.6" width="2" height="2" fill="rgb(74,74,74)" opacity="0.8"/>
<rect x="473.4" y="397.0" width="2" height="2" fill="rgb(144,144,144)" opacity="0.8"/>
<rect x="466.0" y="402.9" width="2" height="2" fill="rgb(98,98,98)" opacity="0.8"/>
<rect x="460.0" y="396.9" width="2" height="2" fill="rgb(147,147,147)" opacity="0.8"/>
<rect x="470.6" y="397.6" width="2" height="2" fill="rgb(78,78,78)" opacity="0.8"/>
<rect x="472.1" y="403.2" width="2" height="2" fill="rgb(126,126,126)" opacity="0.8"/>
<rect x="453.1" y="394.8" width="2" height="2" fill="rgb(78,78,78)" opacity="0.8"/>
<rect x="457.8" y="394.8" width="2" height="2" fill="rgb(75,75,75)" opacity="0.8"/>
<rect x="471.3" y="402.6" width="2" height="2" fill="rgb(89,89,89)" opacity="0.8"/>
<rect x="480.3" y="398.8" width="2" height="2" fill="rgb(146,146,146)" opacity="0.8"/>
<rect x="478.7" y="403.0" width="2" height="2" fill="rgb(73,73,73)" opacity="0.8"/>
<rect x="461.5" y="400.0" width="2" height="2" fill="rgb(159,159,159)" opacity="0.8"/>
<rect x="455.5" y="397.1" width="2" height="2" fill="rgb(150,150,150)" opacity="0.8"/>
<rect x="456.2" y="398.0" width="2" height="2" fill="rgb(101,101,101)" opacity="0.8"/>
<rect x="472.0" y="402.9" width="2" height="2" fill="rgb(86,86,86)" opacity="0.8"/>
<rect x="473.7" y="401.1" width="2" height="2" fill="rgb(149,149,149)" opacity="0.8"/>
<rect x="468.5" y="402.8" width="2" height="2" fill="rgb(104,104,104)" opacity="0.8"/>
<rect x="464.6" y="396.6" width="2" height="2" fill="rgb(144,144,144)" opacity="0.8"/>
<rect x="466.5" y="396.9" width="2" height="2" fill="rgb(86,86,86)" opacity="0.8"/>
<rect x="473.2" y="400.0" width="2" height="2" fill="rgb(137,137,137)" opacity="0.8"/>
<rect x="463.8" y="398.9" width="2" height="2" fill="rgb(84,84,84)" opacity="0.8"/>
<rect x="472.9" y="394.7" width="2" height="2" fill="rgb(114,114,114)" opacity="0.8"/>
<rect x="474.2" y="400.6" width="2" height="2" fill="rgb(79,79,79)" opacity="0.8"/>
<rect x="459.6" y="402.1" width="2" height="2" fill="rgb(131,131,131)" opacity="0.8"/>
<rect x="477.6" y="402.4" width="2" height="2" fill="rgb(112,112,112)" opacity="0.8"/>
<rect x="478.1" y="401.1" width="2" height="2" fill="rgb(101,101,101)" opacity="0.8"/>
<rect x="463.4" y="395.1" width="2" height="2" fill="rgb(107,107,107)" opacity="0.8"/>
<rect x="479.8" y="395.4" width="2" height="2" fill="rgb(124,124,124)" opacity="0.8"/>
<rect x="456.1" y="395.2" width="2" height="2" fill="rgb(131,131,131)" opacity="0.8"/>
<rect x="459.7" y="394.9" width="2" height="2" fill="rgb(84,84,84)" opacity="0.8"/>
<rect x="471.0" y="399.8" width="2" height="2" fill="rgb(71,71,71)" opacity="0.8"/>
<rect x="459.4" y="403.2" width="2" height="2" fill="rgb(90,90,90)" opacity="0.8"/>
<rect x="468.7" y="398.3" width="2" height="2" fill="rgb(144,144,144)" opacity="0.8"/>
<rect x="469.9" y="401.6" width="2" height="2" fill="rgb(120,120,120)" opacity="0.8"/>
<rect x="458.3" y="396.1" width="2" height="2" fill="rgb(77,77,77)" opacity="0.8"/>
<rect x="476.1" y="395.5" width="2" height="2" fill="rgb(72,72,72)" opacity="0.8"/>
</g>
<rect x="458" y="394" width="1.5" height="10" fill="#d0d0d0" filter="url(#blur1)"/>
<defs><radialGradient id="gband" cx="45%" cy="45%" r="55%"><stop offset="0" stop-color="#58f850"/><stop offset="0.4" stop-color="#30d830"/><stop offset="0.75" stop-color="#18a818"/><stop offset="1" stop-color="#086008" stop-opacity="0.2"/></radialGradient></defs>
<g filter="url(#blur2)">
<ellipse cx="518" cy="383.5" rx="20.25" ry="9.0" fill="#0a700a" opacity="0.6"/>
<ellipse cx="518" cy="380.5" rx="22.5" ry="10" fill="url(#gband)"/>
<ellipse cx="576" cy="369.5" rx="21.6" ry="10.8" fill="#0a700a" opacity="0.6"/>
<ellipse cx="576" cy="366.5" rx="24" ry="12" fill="url(#gband)"/>
<ellipse cx="632" cy="366" rx="22.05" ry="9.450000000000001" fill="#0a700a" opacity="0.6"/>
<ellipse cx="632" cy="363" rx="24.5" ry="10.5" fill="url(#gband)"/>
</g>
</g>
</svg></body></html>
